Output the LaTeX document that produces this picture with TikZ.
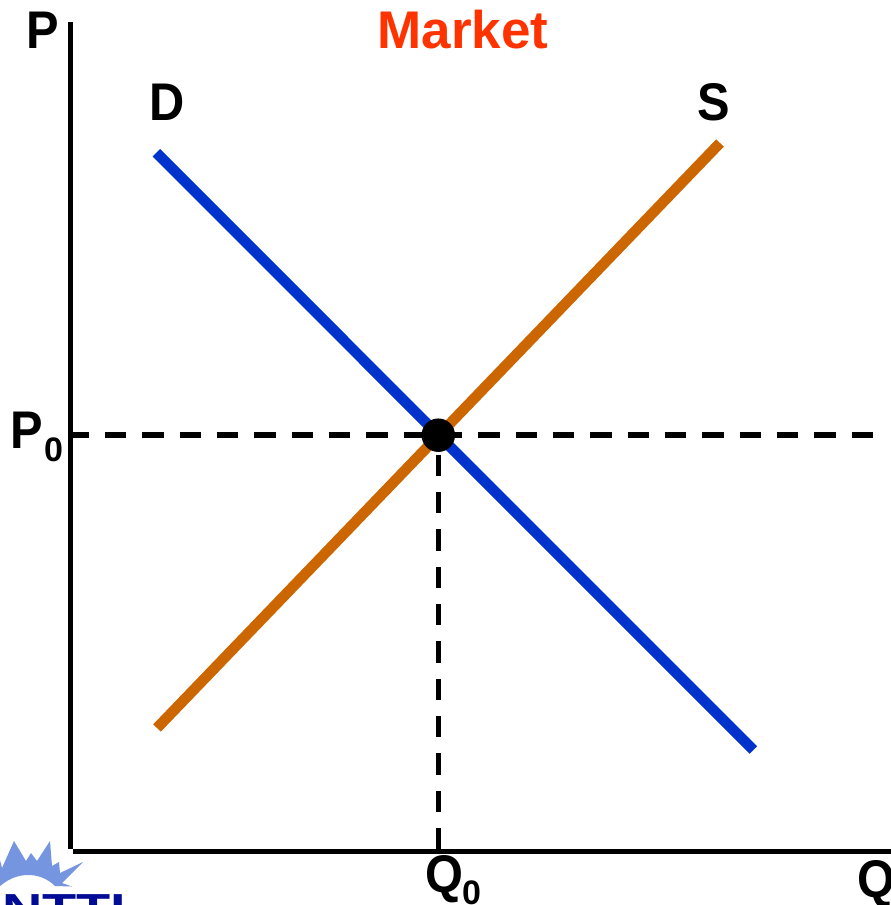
\documentclass[tikz,border=0pt]{standalone}
\usepackage{fontspec}
\setmainfont{Liberation Sans}
\definecolor{dem}{HTML}{0033CC}
\definecolor{sup}{HTML}{CC6600}
\definecolor{mkt}{HTML}{FF3300}
\definecolor{sunb}{HTML}{7595E0}
\definecolor{logob}{HTML}{000C96}
\tikzset{
  axis/.style={draw=black,line width=5.3pt},
  curve/.style={line width=10.6pt},
  guide/.style={draw=black,line width=5.6pt,dash pattern=on 21.33pt off 16pt},
  title/.style={font=\bfseries\fontsize{53}{53}\selectfont,inner sep=0pt,anchor=base},
  lab/.style={title,text=black,transform shape,xscale=0.92},
  subs/.style={font=\bfseries\fontsize{34}{34}\selectfont,text=black,inner sep=0pt,anchor=base}
}
\begin{document}
\begin{tikzpicture}[x=1pt,y=-1pt]
\useasboundingbox (0,0) rectangle (891,905);
\clip (0,0) rectangle (891,905);
\coordinate (ytop) at (70.4,22);
\coordinate (ybot) at (70.4,849);
\coordinate (xl) at (73.3,851.5);
\coordinate (xr) at (891,851.5);
\coordinate (eq) at (438.3,435.2);
\coordinate (pl) at (67.67,435.2);
\coordinate (pr) at (873.3,435.2);
\coordinate (qt) at (438.3,454.67);
\coordinate (qb) at (438.3,849.3);
\draw[guide] (pl) -- (pr);
\draw[guide] (qt) -- (qb);
\draw[axis] (ytop) -- (ybot);
\draw[axis] (xl) -- (xr);
\coordinate (d1) at (156.3,152.7);
\coordinate (d2) at (753.3,750);
\coordinate (s1) at (157,728);
\coordinate (s2) at (720,143);
\draw[curve,draw=dem] (d1) -- (d2);
\draw[curve,draw=sup] (s1) -- (s2);
\node[circle,fill=black,minimum size=33.5pt,inner sep=0pt] (eqdot) at (eq) {};
\node[title,text=mkt] (market) at (463,48) {Market};
\node[lab] (pname) at (42.5,48) {P};
\node[lab] (dname) at (167,120) {D};
\node[lab] (sname) at (714,120) {S};
\node[lab] (p0) at (27,448) {P};
\node[subs] (p0s) at (53.5,461) {0};
\node[lab] (q0) at (444.5,892) {Q};
\node[subs] (q0s) at (471.5,904) {0};
\node[lab,anchor=base west] (qname) at (857,897) {Q};
\fill[sunb] (-2,885) -- (0,860) -- (2,868) -- (14,841) -- (26,861) -- (31,853) -- (37,861) -- (50,841) -- (52,866) -- (59,862) -- (60,873) -- (83,862) -- (62,883) -- (72,886.5) -- (55,886)
  .. controls (40,871) and (15,871) .. (-2,888) -- cycle;
\node[font=\bfseries\fontsize{42}{42}\selectfont,text=logob,inner sep=0pt,anchor=base west,transform shape,xscale=1.33] (logo) at (2,923) {NTTI};
\end{tikzpicture}
\end{document}
